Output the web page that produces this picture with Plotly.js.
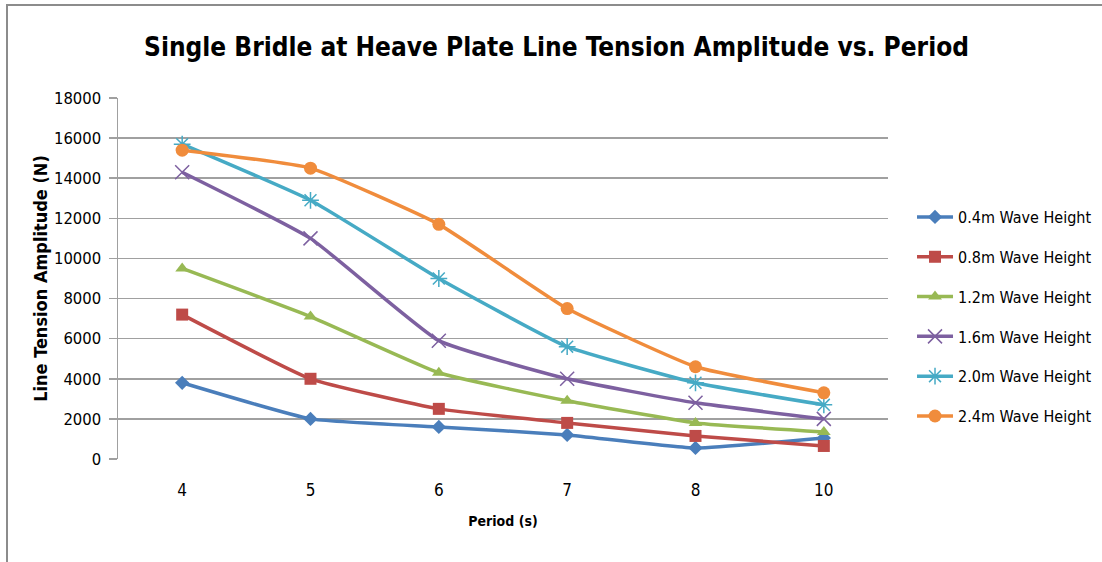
<!DOCTYPE html>
<html>
<head>
<meta charset="utf-8">
<script src="https://cdn.plot.ly/plotly-3.0.1.min.js"></script>
<style>
  html, body { margin: 0; padding: 0; background: #fff; }
  #wrap { position: relative; width: 1102px; height: 562px; overflow: hidden; }
  #chart { position: absolute; left: 0; top: 0; width: 1102px; height: 562px; }
  #frame { position: absolute; left: 6px; top: 4px; right: -10px; bottom: -10px;
           border-top: 2px solid #8c8c8c; border-left: 2px solid #8c8c8c; pointer-events: none; }
</style>
</head>
<body>
<div id="wrap">
  <div id="chart"></div>
  <div id="frame"></div>
</div>
<script>
const periods = ['4', '5', '6', '7', '8', '10'];
const seriesNames = ['0.4m Wave Height', '0.8m Wave Height', '1.2m Wave Height',
                     '1.6m Wave Height', '2.0m Wave Height', '2.4m Wave Height'];
const h04 = [3800, 2000, 1600, 1200, 550, 1050];
const h08 = [7200, 4000, 2500, 1800, 1150, 650];
const h12 = [9500, 7100, 4300, 2900, 1800, 1350];
const h16 = [14300, 11000, 5900, 4000, 2800, 2000];
const h20 = [15700, 12900, 9000, 5600, 3800, 2700];
const h24 = [15400, 14500, 11700, 7500, 4600, 3300];
const yTicks = [0, 2000, 4000, 6000, 8000, 10000, 12000, 14000, 16000, 18000];

const seriesValues = [h04, h08, h12, h16, h20, h24];
const colors = ['#4a7ebb', '#be4b48', '#98b954', '#7d60a0', '#46aac5', '#f08c3c'];
const symbols = ['diamond', 'square', 'triangle-up', 'x-thin-open', 'asterisk-open', 'circle'];
const sizes = [11, 12, 12, 14, 14, 13];

const FONT = '"DejaVu Sans Condensed", Lato, sans-serif';

const traces = seriesValues.map((vals, i) => ({
  type: 'scatter',
  mode: 'lines+markers',
  x: periods,
  y: vals,
  name: seriesNames[i],
  legendgroup: 'g' + i,
  line: { color: colors[i], width: 3.5, shape: 'spline', smoothing: 0.4 },
  marker: { symbol: symbols[i], size: sizes[i], color: colors[i],
            line: { color: colors[i], width: (i === 3 || i === 4) ? 1.5 : 0 } }
}));

const layout = {
  width: 1102,
  height: 562,
  margin: { l: 118, r: 214, t: 98, b: 103 },
  paper_bgcolor: '#ffffff',
  plot_bgcolor: '#ffffff',
  font: { family: FONT, color: '#000000' },
  title: {
    text: '<b>Single Bridle at Heave Plate Line Tension Amplitude vs. Period</b>',
    font: { family: FONT, size: 26, color: '#000000' },
    x: 0.505, xanchor: 'center', xref: 'container',
    y: 0.917, yanchor: 'middle', yref: 'container'
  },
  xaxis: {
    type: 'category',
    categoryorder: 'array',
    categoryarray: periods,
    range: [-0.5, 5.5],
    showgrid: false,
    zeroline: false,
    showline: false,
    ticks: '',
    ticklabelstandoff: 19,
    tickfont: { family: FONT, size: 17, color: '#000' },
    title: { text: '<b>Period (s)</b>', font: { family: FONT, size: 14, color: '#000' }, standoff: 17 },
    automargin: false,
    fixedrange: true
  },
  yaxis: {
    range: [0, 18000],
    tickvals: yTicks,
    ticktext: yTicks.map(String),
    showgrid: true,
    gridcolor: '#a0a0a0',
    gridwidth: 1.5,
    zeroline: false,
    showline: true,
    linecolor: '#a0a0a0',
    linewidth: 1.5,
    ticks: 'outside',
    ticklen: 8,
    tickcolor: '#a0a0a0',
    tickwidth: 1.5,
    ticklabelstandoff: 4,
    tickfont: { family: FONT, size: 16.5, color: '#000' },
    title: { text: '<b>Line Tension Amplitude (N)</b>', font: { family: FONT, size: 18, color: '#000' }, standoff: 1 },
    automargin: false,
    fixedrange: true
  },
  showlegend: true,
  legend: {
    xref: 'container', yref: 'container',
    x: 0.8276, xanchor: 'left',
    y: 0.644, yanchor: 'top',
    traceorder: 'grouped',
    tracegroupgap: 16,
    itemwidth: 36,
    font: { family: FONT, size: 16, color: '#000' },
    bgcolor: 'rgba(0,0,0,0)',
    borderwidth: 0
  }
};

Plotly.newPlot('chart', traces, layout, { displayModeBar: false, staticPlot: true });
</script>
</body>
</html>
